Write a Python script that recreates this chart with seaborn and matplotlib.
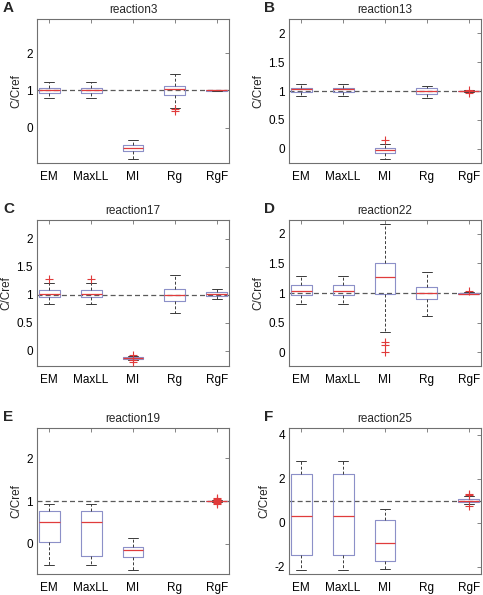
import numpy as np
import pandas as pd
import matplotlib
matplotlib.use("Agg")
import matplotlib.pyplot as plt
import seaborn as sns

methods = ["EM", "MaxLL", "MI", "Rg", "RgF"]

# box summaries, per method:
# [whisker low, q1, median, q3, whisker high]; None = no box drawn
r3_stats = [[0.80, 0.93, 1.00, 1.06, 1.22],
            [0.80, 0.93, 1.00, 1.06, 1.22],
            [-0.84, -0.63, -0.56, -0.47, -0.33],
            [0.54, 0.88, 1.03, 1.12, 1.44],
            [0.98, 0.99, 1.00, 1.01, 1.02]]
r3_flier_cat = ["Rg", "Rg"]
r3_flier_val = [0.50, 0.45]

r13_stats = [[0.91, 0.99, 1.03, 1.06, 1.12],
             [0.91, 0.99, 1.03, 1.06, 1.12],
             [-0.18, -0.075, -0.03, 0.01, 0.08],
             [0.87, 0.95, 1.00, 1.05, 1.09],
             [0.99, 0.995, 1.00, 1.005, 1.01]]
r13_flier_cat = ["MI", "RgF", "RgF"]
r13_flier_val = [0.155, 0.97, 1.02]

r17_stats = [[0.83, 0.96, 1.01, 1.08, 1.20],
             [0.83, 0.96, 1.01, 1.08, 1.20],
             [-0.16, -0.145, -0.13, -0.115, -0.10],
             [0.68, 0.89, 0.99, 1.11, 1.35],
             [0.92, 0.98, 1.01, 1.04, 1.11]]
r17_flier_cat = ["EM", "MaxLL", "MI", "MI", "MI"]
r17_flier_val = [1.28, 1.28, -0.08, -0.17, -0.20]

r22_stats = [[0.82, 0.97, 1.03, 1.14, 1.28],
             [0.82, 0.97, 1.03, 1.14, 1.28],
             [0.34, 0.99, 1.27, 1.50, 2.16],
             [0.62, 0.90, 1.00, 1.10, 1.35],
             [0.975, 0.985, 0.99, 1.00, 1.01]]
r22_flier_cat = ["MI", "MI", "MI", "RgF"]
r22_flier_val = [0.17, 0.13, 0.00, 1.03]

r19_stats = [[-0.48, 0.05, 0.51, 0.76, 0.92],
             [-0.48, -0.29, 0.51, 0.76, 0.92],
             [-0.60, -0.30, -0.145, -0.08, 0.145],
             None,
             [0.97, 0.99, 1.00, 1.01, 1.03]]
r19_flier_cat = ["RgF"] * 6
r19_flier_val = [0.92, 0.95, 0.97, 1.03, 1.05, 1.08]

r25_stats = [[-2.14, -1.47, 0.30, 2.22, 2.82],
             [-2.14, -1.47, 0.30, 2.22, 2.82],
             [-2.10, -1.73, -0.94, 0.12, 0.60],
             None,
             [0.85, 0.95, 1.00, 1.08, 1.20]]
r25_flier_cat = ["RgF", "RgF", "RgF"]
r25_flier_val = [1.30, 1.27, 0.77]

panels = [
    ("A", "reaction3", r3_stats, r3_flier_cat, r3_flier_val, (-0.95, 2.92), [0, 1, 2]),
    ("B", "reaction13", r13_stats, r13_flier_cat, r13_flier_val, (-0.25, 2.25), [0, 0.5, 1, 1.5, 2]),
    ("C", "reaction17", r17_stats, r17_flier_cat, r17_flier_val, (-0.27, 2.33), [0, 0.5, 1, 1.5, 2]),
    ("D", "reaction22", r22_stats, r22_flier_cat, r22_flier_val, (-0.23, 2.23), [0, 0.5, 1, 1.5, 2]),
    ("E", "reaction19", r19_stats, r19_flier_cat, r19_flier_val, (-0.70, 2.70), [0, 1, 2]),
    ("F", "reaction25", r25_stats, r25_flier_cat, r25_flier_val, (-2.33, 4.30), [-2, 0, 2, 4]),
]

sns.set_theme(style="white")
plt.rcParams["font.family"] = ["Liberation Sans", "DejaVu Sans"]
plt.rcParams["axes.unicode_minus"] = False

W, H = 483, 595
fig = plt.figure(figsize=(W / 100, H / 100), dpi=100)

# axes frames in pixels: (left, right) and (top, bottom)
col_x = [(37, 229), (289, 481)]
row_y = [(19, 163), (220, 366), (428, 574)]

box_col = "#8c90c8"
med_col = "#e03c3c"
frame_col = "#707070"

for i, (letter, title, stats, fcat, fval, ylim, yticks) in enumerate(panels):
    r, c = divmod(i, 2)
    x0, x1 = col_x[c]
    y0, y1 = row_y[r]
    ax = fig.add_axes([x0 / W, 1 - y1 / H, (x1 - x0) / W, (y1 - y0) / H])

    rows = []
    for m, s in zip(methods, stats):
        if s is None:
            continue
        for v in s:
            rows.append((m, v))
    df = pd.DataFrame(rows, columns=["method", "value"])

    ax.axhline(1, color="#5a5a5a", lw=0.9, ls=(0, (4, 2.5)), zorder=1)
    sns.boxplot(data=df, x="method", y="value", order=methods, whis=(0, 100),
                width=0.5, fill=False, color=box_col, linewidth=0.8,
                showfliers=False,
                medianprops=dict(color=med_col, linewidth=0.9),
                whiskerprops=dict(color="#3a3a3a", linewidth=0.7, linestyle=(0, (3, 2))),
                capprops=dict(color="#3a3a3a", linewidth=0.7),
                ax=ax, zorder=2)
    fl = pd.DataFrame({"method": fcat, "value": fval})
    sns.stripplot(data=fl, x="method", y="value", order=methods, jitter=False,
                  marker="+", color="#e03a3a", size=6, linewidth=0.8, ax=ax, zorder=3)

    ax.set_xlim(-0.29, 4.29)
    ax.set_ylim(*ylim)
    ax.set_yticks(yticks)
    ax.set_yticklabels([f"{t:g}" for t in yticks])
    ax.set_xlabel("")
    ax.set_ylabel("C/Cref", fontsize=8.5, labelpad=3)
    ax.set_title(title, fontsize=8.5, pad=4)
    ax.tick_params(direction="in", top=True, right=True, length=3, width=0.6,
                   color=frame_col, labelsize=8.5, colors="black")
    ax.tick_params(axis="x", pad=6)
    ax.tick_params(axis="y", pad=3)
    for sp in ax.spines.values():
        sp.set_color(frame_col)
        sp.set_linewidth(0.8)

    fig.text((3 if c == 0 else 264) / W, 1 - (y0 - 11) / H, letter,
             fontsize=11, fontweight="bold", va="center", ha="left")

fig.savefig("out.png", dpi=100)
